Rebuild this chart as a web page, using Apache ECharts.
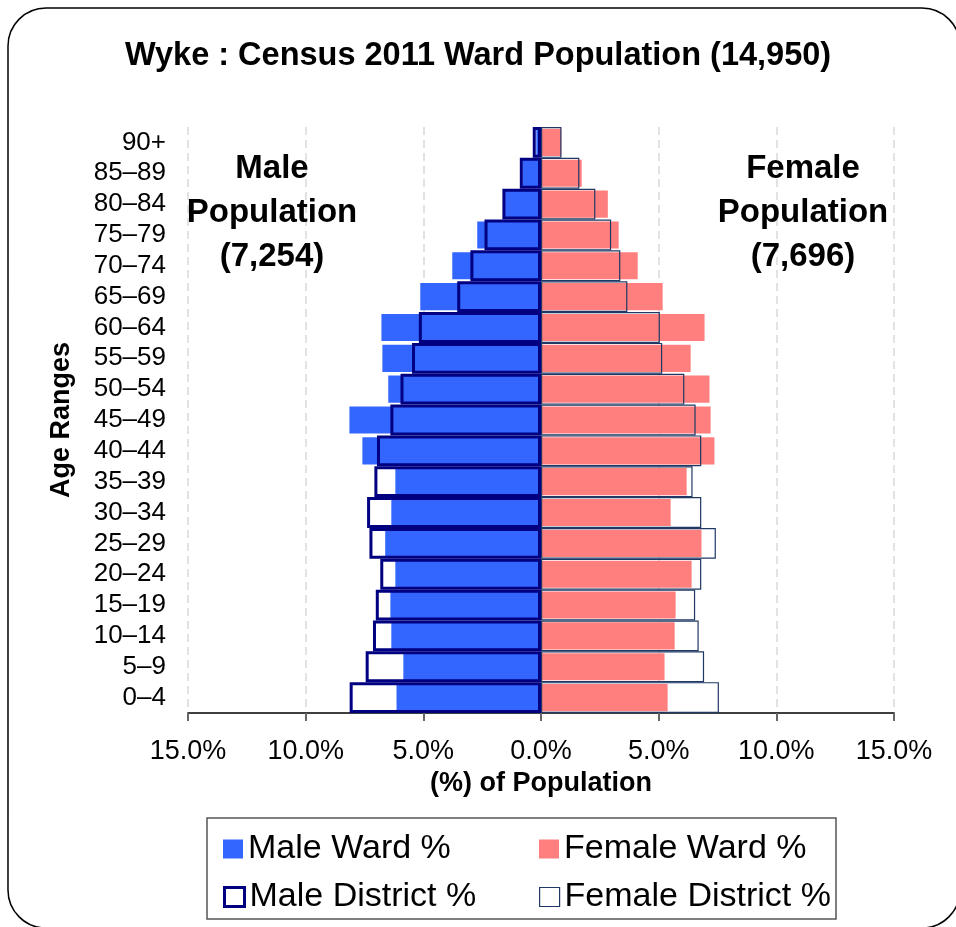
<!DOCTYPE html>
<html>
<head>
<meta charset="utf-8">
<title>Wyke : Census 2011 Ward Population</title>
<script src="https://cdn.jsdelivr.net/npm/echarts@6/dist/echarts.min.js"></script>
<style>
  html, body { margin: 0; padding: 0; background: #fff; }
  #chart { width: 956px; height: 927px; }
</style>
</head>
<body>
<div id="chart"></div>
<script>
// Age bands, youngest first (drawn bottom to top)
const ageBands = ['0–4', '5–9', '10–14', '15–19', '20–24', '25–29', '30–34', '35–39', '40–44',
  '45–49', '50–54', '55–59', '60–64', '65–69', '70–74', '75–79', '80–84', '85–89', '90+'];

// Share of each sex's population in each band (%)
const maleWard = [6.14, 5.85, 6.36, 6.40, 6.19, 6.62, 6.36, 6.19, 7.59,
  8.14, 6.49, 6.74, 6.78, 5.13, 3.77, 2.71, 1.60, 0.78, 0.20];
const femaleWard = [5.38, 5.25, 5.68, 5.72, 6.40, 6.82, 5.51, 6.19, 7.37,
  7.21, 7.16, 6.36, 6.95, 5.17, 4.11, 3.30, 2.84, 1.73, 0.86];
const maleDistrict = [8.13, 7.45, 7.14, 7.02, 6.83, 7.29, 7.39, 7.08, 6.97,
  6.40, 5.97, 5.48, 5.19, 3.56, 3.00, 2.40, 1.64, 0.90, 0.35];
const femaleDistrict = [7.56, 6.93, 6.70, 6.55, 6.81, 7.43, 6.81, 6.44, 6.81,
  6.57, 6.09, 5.15, 5.05, 3.67, 3.37, 2.98, 2.31, 1.63, 0.87];

// Axis ticks
const xTicks = [-15, -10, -5, 0, 5, 10, 15];

const FONT = "'Liberation Sans', Arial, Helvetica, sans-serif";
const MALE_BLUE = '#3366FF';
const FEMALE_PINK = '#FF7F7F';
const MALE_EDGE = '#000080';
const FEMALE_EDGE = '#1F3864';

const chart = echarts.init(document.getElementById('chart'), null, { renderer: 'canvas' });

function legendAt(name, left, top, itemStyle) {
  return {
    data: [{ name: name, icon: 'rect', itemStyle: itemStyle }],
    left: left, top: top,
    itemWidth: 20, itemHeight: 19, itemGap: 0,
    selectedMode: false,
    textStyle: { fontFamily: FONT, fontSize: 34, color: '#000', padding: [0, 0, 0, 0] }
  };
}

const option = {
  animation: false,
  backgroundColor: '#fff',
  title: {
    text: 'Wyke : Census 2011 Ward Population (14,950)',
    left: 'center', top: 35,
    textStyle: { fontFamily: FONT, fontSize: 32.5, fontWeight: 'bold', color: '#000' }
  },
  grid: { left: 188, right: 62, top: 127, bottom: 214, containLabel: false },
  xAxis: {
    type: 'value',
    min: xTicks[0], max: xTicks[xTicks.length - 1], interval: 5,
    name: '(%) of Population',
    nameLocation: 'middle', nameGap: 41,
    nameTextStyle: { fontFamily: FONT, fontSize: 27, fontWeight: 'bold', color: '#000' },
    axisLine: { show: true, onZero: false, lineStyle: { color: '#000', width: 1.5 } },
    axisTick: { show: true, inside: false, length: 8, lineStyle: { color: '#666', width: 2 } },
    axisLabel: {
      margin: 25, fontFamily: FONT, fontSize: 27, color: '#000',
      formatter: v => Math.abs(v).toFixed(1) + '%'
    },
    splitLine: { show: true, lineStyle: { color: '#d9d9d9', type: [8, 5], width: 1.5 } }
  },
  yAxis: [
    {
      type: 'category', data: ageBands,
      name: 'Age Ranges', nameLocation: 'middle', nameRotate: 90, nameGap: 113,
      nameTextStyle: { fontFamily: FONT, fontSize: 27, fontWeight: 'bold', color: '#000' },
      axisLine: { show: false }, axisTick: { show: false },
      axisLabel: { interval: 0, margin: 22, fontFamily: FONT, fontSize: 26, color: '#000' }
    },
    {
      type: 'category', data: ageBands, show: false
    }
  ],
  legend: [
    legendAt('Male Ward %', 218, 827, { color: MALE_BLUE }),
    legendAt('Female Ward %', 534, 827, { color: FEMALE_PINK }),
    legendAt('Male District %', 218, 875, { color: '#fff', borderColor: MALE_EDGE, borderWidth: 3 }),
    legendAt('Female District %', 534, 875, { color: '#fff', borderColor: FEMALE_EDGE, borderWidth: 1.2 })
  ],
  graphic: [
    {
      type: 'rect', silent: true, z: -10,
      shape: { x: 8, y: 8, width: 952, height: 920, r: 38 },
      style: { fill: '#fff', stroke: '#000', lineWidth: 1.5 }
    },
    {
      type: 'rect', silent: true, z: -5,
      shape: { x: 207, y: 818, width: 629, height: 101 },
      style: { fill: '#fff', stroke: '#555', lineWidth: 1.5 }
    },
    {
      type: 'text', silent: true, left: 272 - 90, top: 147, z: 20,
      style: {
        text: 'Male\nPopulation\n(7,254)', width: 180, align: 'center',
        fontFamily: FONT, fontSize: 33, fontWeight: 'bold', lineHeight: 44, fill: '#000',
        x: 90, textAlign: 'center'
      }
    },
    {
      type: 'text', silent: true, left: 803 - 90, top: 147, z: 20,
      style: {
        text: 'Female\nPopulation\n(7,696)', width: 180, align: 'center',
        fontFamily: FONT, fontSize: 33, fontWeight: 'bold', lineHeight: 44, fill: '#000',
        x: 90, textAlign: 'center'
      }
    }
  ],
  series: [
    {
      name: 'Male Ward %', type: 'bar', yAxisIndex: 0,
      data: maleWard.map(v => -v),
      barGap: '-100%', barCategoryGap: '12%',
      itemStyle: { color: MALE_BLUE }, z: 2
    },
    {
      name: 'Female Ward %', type: 'bar', yAxisIndex: 0,
      data: femaleWard,
      barGap: '-100%', barCategoryGap: '12%',
      itemStyle: { color: FEMALE_PINK }, z: 2
    },
    {
      name: 'Female District %', type: 'bar', yAxisIndex: 1,
      data: femaleDistrict,
      barGap: '-100%', barCategoryGap: '0%',
      itemStyle: { color: 'rgba(0,0,0,0)', borderColor: FEMALE_EDGE, borderWidth: 1.2 }, z: 3
    },
    {
      name: 'Male District %', type: 'bar', yAxisIndex: 1,
      data: maleDistrict.map(v => -v),
      barGap: '-100%', barCategoryGap: '0%',
      itemStyle: { color: 'rgba(0,0,0,0)', borderColor: MALE_EDGE, borderWidth: 3 }, z: 4
    }
  ]
};

chart.setOption(option);
</script>
</body>
</html>
